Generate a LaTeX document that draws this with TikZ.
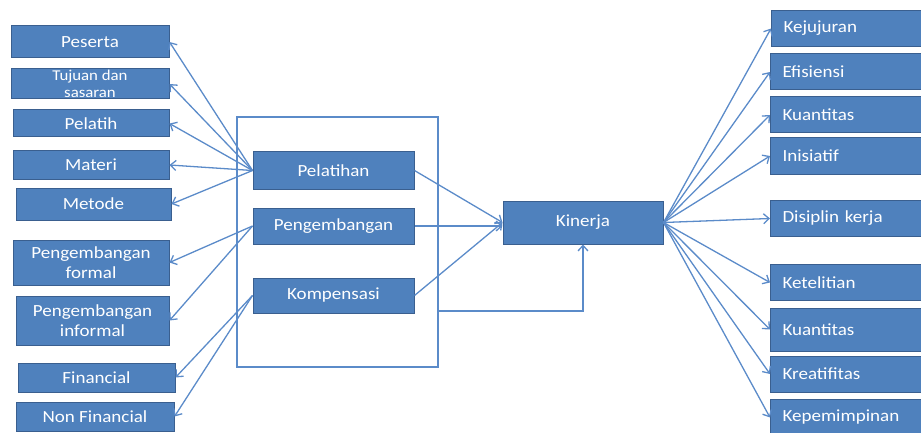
\documentclass[tikz,border=0pt]{standalone}
\usepackage{fontspec}
\newfontfamily\boxfont[FakeStretch=1.12]{Carlito}
\usetikzlibrary{arrows.meta}

\definecolor{biru}{HTML}{4F81BD}
\definecolor{birutua}{HTML}{3A5F8F}
\definecolor{birugaris}{HTML}{5B8BC9}

\tikzset{
    kotak/.style={draw=birutua, fill=biru, text=white, line width=1pt, inner sep=0pt,
        align=center, font=\boxfont\fontsize{17}{20}\selectfont},
    kanan/.style={kotak, anchor=west, minimum height=36pt, text width=131pt,
        inner xsep=12pt, align=left},
    panah/.style={draw=birugaris, line width=1.3pt, -{Straight Barb[length=5.5pt,width=10pt]}}
}

\begin{document}
\begin{tikzpicture}[x=1pt, y=-1pt]
        \useasboundingbox (0,0) rectangle (921,433);

        % Kotak kiri
        \node[kotak, minimum width=158pt, minimum height=32pt] (peserta) at (90,42) {Peserta};
        \node[kotak, minimum width=158pt, minimum height=30pt, font=\boxfont\fontsize{15}{17}\selectfont] (tujuan) at (90,84) {Tujuan dan\\sasaran};
        \node[kotak, minimum width=156pt, minimum height=27pt] (pelatih) at (91,123.5) {Pelatih};
        \node[kotak, minimum width=156pt, minimum height=28pt] (materi) at (91,165) {Materi};
        \node[kotak, minimum width=155pt, minimum height=32pt] (metode) at (93.5,204) {Metode};
        \node[kotak, minimum width=156pt, minimum height=45pt] (formal) at (91,262.5) {Pengembangan\\formal};
        \node[kotak, minimum width=153pt, minimum height=49pt] (informal) at (92.5,320.5) {Pengembangan\\informal};
        \node[kotak, minimum width=157pt, minimum height=29pt] (financial) at (96.5,377.5) {Financial};
        \node[kotak, minimum width=158pt, minimum height=29pt] (nonfin) at (95,416.5) {Non Financial};

        % Kotak tengah
        \node[draw=birugaris, line width=1.2pt, minimum width=201pt, minimum height=250pt] (grup) at (337.5,242) {};
        \node[kotak, minimum width=161pt, minimum height=37pt] (pelatihan) at (333.5,170.5) {Pelatihan};
        \node[kotak, minimum width=161pt, minimum height=36pt] (pengembangan) at (333.5,226) {Pengembangan};
        \node[kotak, minimum width=161pt, minimum height=35pt] (kompensasi) at (333.5,295.5) {Kompensasi};
        \node[kotak, minimum width=160pt, minimum height=43pt] (kinerja) at (583,222.5) {Kinerja};
        \coordinate (sambung) at (grup.east |- 0,311);

        % Kotak kanan
        \node[kanan] (kejujuran) at (771,28.5) {Kejujuran};
        \node[kanan] (efisiensi) at (770,72) {Efisiensi};
        \node[kanan] (kuantitas) at (770,115) {Kuantitas};
        \node[kanan] (inisiatif) at (770,156) {Inisiatif};
        \node[kanan] (disiplin) at (770,218.5) {Disiplin kerja};
        \node[kanan] (ketelitian) at (770,282.5) {Ketelitian};
        \node[kanan, minimum height=43pt] (kuantitasb) at (770,329.5) {Kuantitas};
        \node[kanan] (kreatifitas) at (770,374) {Kreatifitas};
        \node[kanan] (kepemimpinan) at (770,417.5) {Kepemimpinan};

        % Panah ke kiri
        \foreach \t in {peserta,tujuan,pelatih,materi,metode}
            \draw[panah] (pelatihan.west) -- (\t.east);
        \foreach \t in {formal,informal}
            \draw[panah] (pengembangan.west) -- (\t.east);
        \foreach \t in {financial,nonfin}
            \draw[panah] (kompensasi.west) -- (\t.east);

        % Panah ke kinerja
        \draw[panah] (pelatihan.east) -- (kinerja.west);
        \draw[panah] (pengembangan.east) -- (pengembangan.east -| kinerja.west);
        \draw[panah] (kompensasi.east) -- (kinerja.west);
        \draw[panah] (sambung) -| (kinerja.south);

        % Panah ke kanan
        \foreach \t in {kejujuran,efisiensi,kuantitas,inisiatif,disiplin,ketelitian,kuantitasb,kreatifitas,kepemimpinan}
            \draw[panah] (kinerja.east) -- (\t.west);
    \end{tikzpicture}
\end{document}
